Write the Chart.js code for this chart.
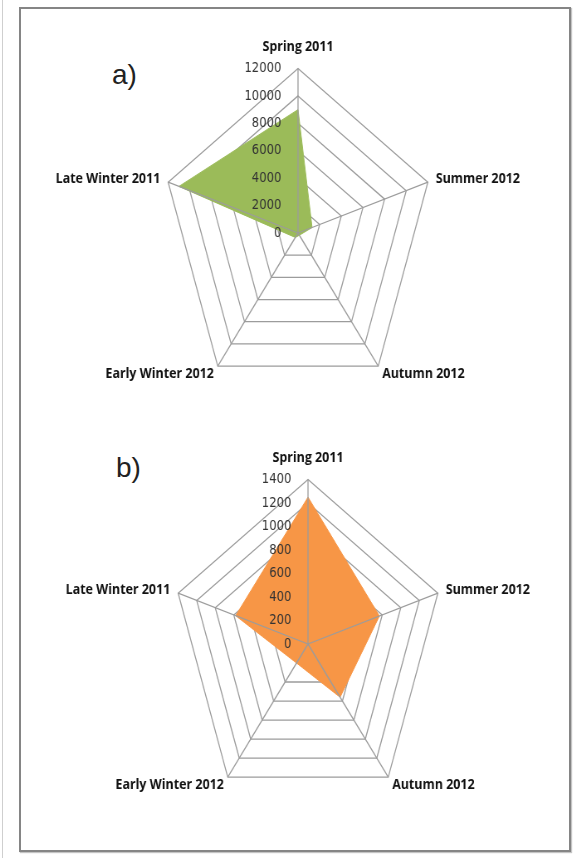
<!DOCTYPE html>
<html><head><meta charset="utf-8">
<script src="https://cdn.jsdelivr.net/npm/chart.js@4.4.1/dist/chart.umd.min.js"></script>
<style>
html,body{margin:0;padding:0;background:#fff;width:575px;height:858px;overflow:hidden;position:relative;}
#leftline{position:absolute;left:2px;top:0;width:1px;height:858px;background:#cfcfcf;}
#frame{position:absolute;left:19px;top:7px;width:552px;height:845px;box-sizing:border-box;border:2px solid #858585;box-shadow:1px 1px 1px #c4c4c4;}
.panel{position:absolute;font-family:'Liberation Sans',Arial,sans-serif;font-size:28px;color:#222;line-height:28px;}
.wrap{position:absolute;width:700px;height:375px;transform:scaleX(0.83);transform-origin:350px 0;}
</style></head>
<body>
<div id="leftline"></div>
<div id="frame"></div>
<div class="panel" style="left:112px;top:61px">a)</div>
<div class="panel" style="left:116px;top:454px">b)</div>
<div class="wrap" style="left:-52px;top:35px"><canvas id="ca"></canvas></div>
<div class="wrap" style="left:-42px;top:446px"><canvas id="cb"></canvas></div>
<script>
// Categories (clockwise from top)
const categories = ['Spring 2011', 'Summer 2012', 'Autumn 2012', 'Early Winter 2012', 'Late Winter 2011'];
// Panel a) values
const valuesA = [9000, 1300, 200, 400, 11000];
// Panel b) values
const valuesB = [1250, 770, 560, 200, 780];
// Tick labels
const ticksA = [0, 2000, 4000, 6000, 8000, 10000, 12000];
const ticksB = [0, 200, 400, 600, 800, 1000, 1200, 1400];

const GRID = '#9c9c9c';

const overlay = {
  id: 'overlay',
  afterDatasetsDraw(chart) {
    const s = chart.scales.r;
    const ctx = chart.ctx;
    ctx.save();
    ctx.strokeStyle = GRID;
    ctx.lineWidth = 1.3;
    for (let i = 0; i < chart.data.labels.length; i++) {
      const p = s.getPointPosition(i, s.drawingArea);
      ctx.beginPath();
      ctx.moveTo(s.xCenter, s.yCenter);
      ctx.lineTo(p.x, p.y);
      ctx.stroke();
    }
    ctx.font = '14px "DejaVu Sans"';
    ctx.fillStyle = '#333333';
    ctx.textAlign = 'right';
    ctx.textBaseline = 'middle';
    s.ticks.forEach(t => {
      const d = s.getDistanceFromCenterForValue(t.value);
      ctx.fillText(t.label, s.xCenter - 20, s.yCenter - d);
    });
    ctx.restore();
  }
};

function makeChart(id, values, tickList, color) {
  const step = tickList[1] - tickList[0];
  return new Chart(document.getElementById(id), {
    type: 'radar',
    data: {
      labels: categories,
      datasets: [{
        data: values,
        backgroundColor: color,
        borderColor: color,
        borderWidth: 1,
        fill: true,
        pointRadius: 0,
        tension: 0
      }]
    },
    options: {
      responsive: true,
      maintainAspectRatio: false,
      animation: false,
      events: [],
      plugins: { legend: { display: false }, tooltip: { enabled: false } },
      scales: {
        r: {
          min: tickList[0],
          max: tickList[tickList.length - 1],
          ticks: { stepSize: step, display: false, callback: v => String(v) },
          grid: { color: GRID, lineWidth: 1.3 },
          angleLines: { display: false },
          pointLabels: {
            color: '#111111',
            font: { family: "'Open Sans'", size: 15, weight: '700', lineHeight: 0.1 },
            padding: ctx => (ctx.index === 0 ? 21 : (ctx.index === 2 || ctx.index === 3) ? 8 : 10)
          }
        }
      }
    },
    plugins: [overlay]
  });
}

makeChart('ca', valuesA, ticksA, '#9bbb59');
makeChart('cb', valuesB, ticksB, '#f79646');
</script>
</body></html>
